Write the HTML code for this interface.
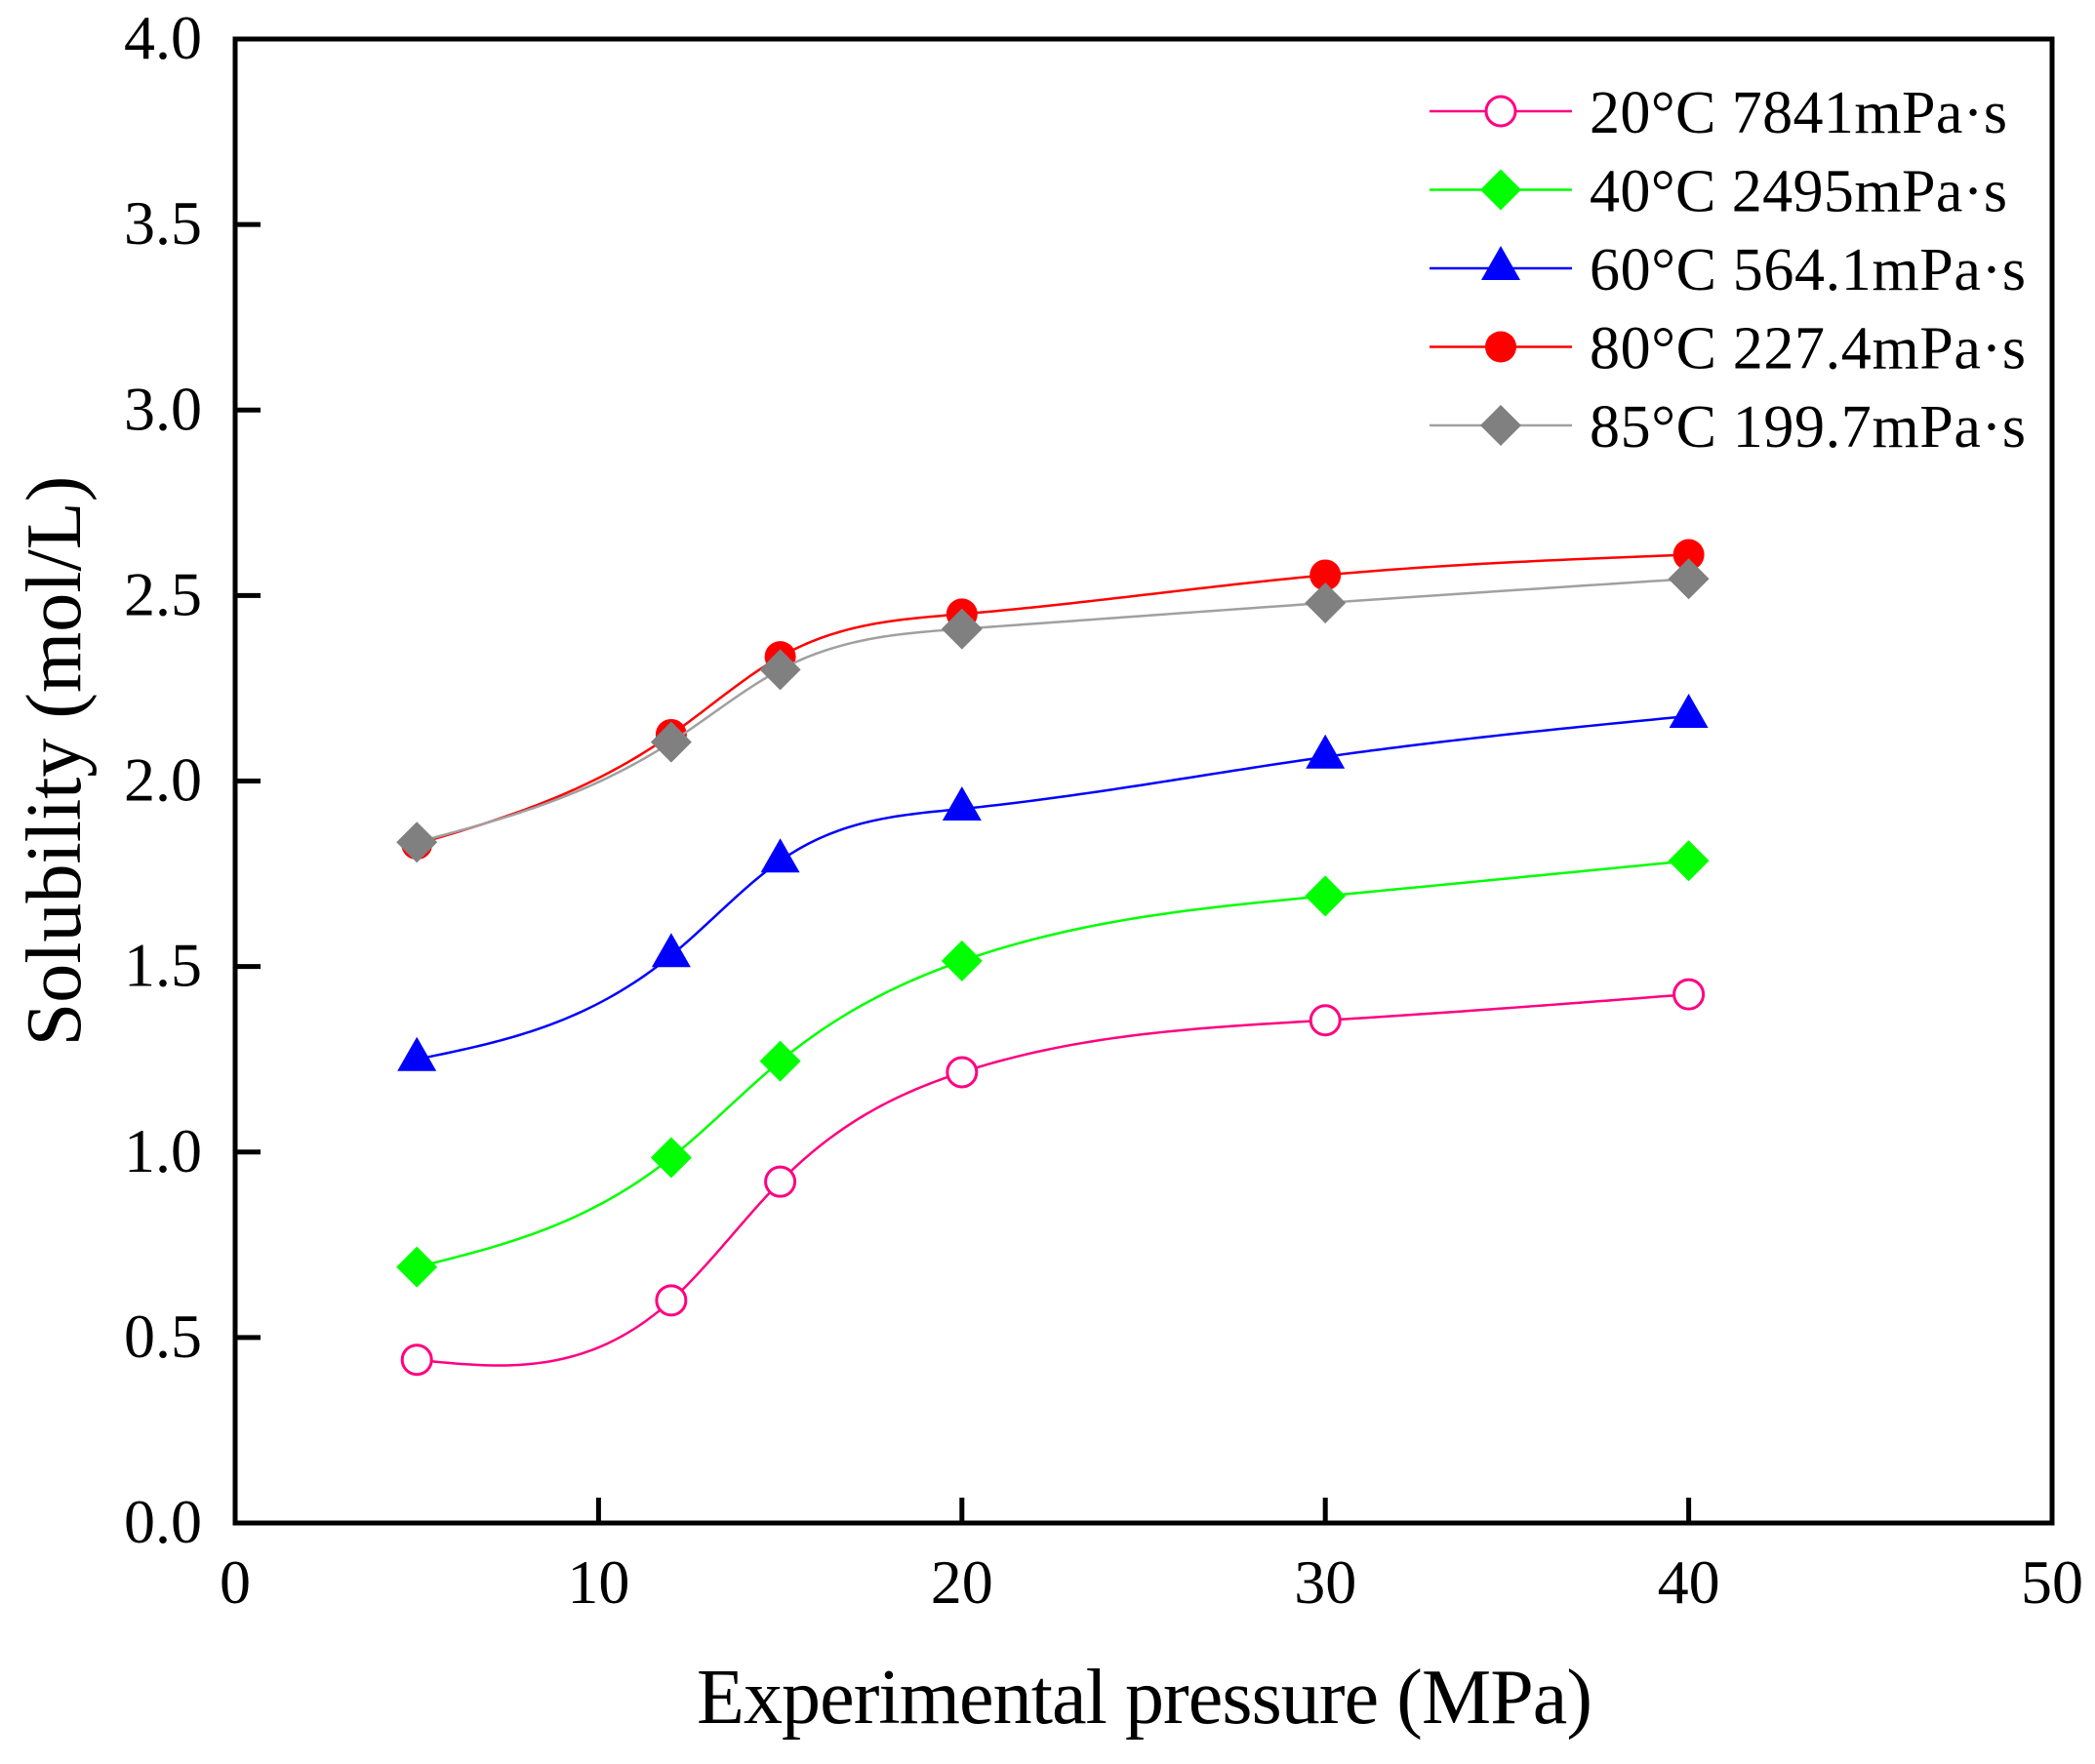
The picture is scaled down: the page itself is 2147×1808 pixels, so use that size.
<!DOCTYPE html>
<html><head><meta charset="utf-8"><style>
html,body{margin:0;padding:0;background:#fff;}
svg text{font-family:"Liberation Serif","Times New Roman",serif;fill:#000;}
</style></head><body>
<svg id="chart" xmlns="http://www.w3.org/2000/svg" width="2147" height="1803" viewBox="0 0 2147 1803">
<rect x="0" y="0" width="2147" height="1803" fill="#fff"/>
<g id="plot"></g>
<g id="axes"></g>
<g id="legend"></g>
<text x="1173" y="1766" font-size="80" text-anchor="middle" textLength="918">Experimental pressure (MPa)</text>
<text x="0" y="0" font-size="80" text-anchor="middle" transform="translate(82,780) rotate(-90)">Solubility (mol/L)</text>
</svg>
<script>
const pressures = [5, 12, 15, 20, 30, 40];
const s20 = [0.44, 0.60, 0.92, 1.215, 1.355, 1.425];
const s40 = [0.69, 0.985, 1.245, 1.515, 1.69, 1.785];
const s60 = [1.25, 1.53, 1.785, 1.925, 2.065, 2.175];
const s80 = [1.83, 2.125, 2.335, 2.45, 2.555, 2.61];
const s85 = [1.835, 2.105, 2.30, 2.41, 2.48, 2.545];
const seriesNames = ["20°C 7841mPa·s","40°C 2495mPa·s","60°C 564.1mPa·s","80°C 227.4mPa·s","85°C 199.7mPa·s"];
const xTicks = [0, 10, 20, 30, 40, 50];
const yTicks = [0.0, 0.5, 1.0, 1.5, 2.0, 2.5, 3.0, 3.5, 4.0];

const NS = "http://www.w3.org/2000/svg";
const L = 241, R = 2103, T = 40, B = 1561;
const xMin = 0, xMax = 50, yMin = 0, yMax = 4;
function xs(v){ return L + (v - xMin) / (xMax - xMin) * (R - L); }
function ys(v){ return B - (v - yMin) / (yMax - yMin) * (B - T); }
function mk(tag, attrs, parent){ const e = document.createElementNS(NS, tag); for (const k in attrs) e.setAttribute(k, attrs[k]); parent.appendChild(e); return e; }

const plot = document.getElementById('plot');
const axes = document.getElementById('axes');
const legend = document.getElementById('legend');

const styles = [
  {color:"#ff0080", marker:"circle", data:s20, name:"series-20c"},
  {color:"#00ff00", marker:"diamond", data:s40, name:"series-40c"},
  {color:"#0000ff", marker:"triangle", data:s60, name:"series-60c"},
  {color:"#ff0000", marker:"dot", data:s80, name:"series-80c"},
  {color:"#808080", marker:"diamond", data:s85, name:"series-85c", line:"#a0a0a0"}
];

// natural cubic spline in data space
function splinePath(x, y){
  const n = x.length, h = [], a = [], l = [1], mu = [0], z = [0], c = new Array(n).fill(0), b = [], d = [];
  for (let i = 0; i < n - 1; i++) h.push(x[i+1] - x[i]);
  for (let i = 1; i < n - 1; i++) a[i] = 3/h[i]*(y[i+1]-y[i]) - 3/h[i-1]*(y[i]-y[i-1]);
  for (let i = 1; i < n - 1; i++){
    l[i] = 2*(x[i+1]-x[i-1]) - h[i-1]*mu[i-1];
    mu[i] = h[i]/l[i];
    z[i] = (a[i] - h[i-1]*z[i-1])/l[i];
  }
  for (let j = n - 2; j >= 0; j--){
    c[j] = (j === n-2 ? 0 : 0) + z[j] - mu[j]*c[j+1];
    b[j] = (y[j+1]-y[j])/h[j] - h[j]*(c[j+1]+2*c[j])/3;
    d[j] = (c[j+1]-c[j])/(3*h[j]);
  }
  c[0] = 0;
  let pts = [];
  for (let j = 0; j < n - 1; j++){
    const steps = 40;
    for (let k = 0; k <= steps; k++){
      if (j > 0 && k === 0) continue;
      const t = h[j]*k/steps;
      const v = y[j] + b[j]*t + c[j]*t*t + d[j]*t*t*t;
      pts.push(xs(x[j]+t).toFixed(2) + "," + ys(v).toFixed(2));
    }
  }
  return "M" + pts.join(" L");
}

function drawMarker(type, cx, cy, color, parent){
  let e;
  if (type === "circle") e = mk('circle', {cx:cx, cy:cy, r:15, fill:"#fff", stroke:color, "stroke-width":3}, parent);
  else if (type === "dot") e = mk('circle', {cx:cx, cy:cy, r:16, fill:color}, parent);
  else if (type === "diamond") e = mk('polygon', {points:(cx)+","+(cy-21)+" "+(cx+21)+","+cy+" "+cx+","+(cy+21)+" "+(cx-21)+","+cy, fill:color}, parent);
  else e = mk('polygon', {points:cx+","+(cy-23)+" "+(cx+20)+","+(cy+12)+" "+(cx-20)+","+(cy+12), fill:color}, parent);
  return e;
}

styles.forEach(function(s, si){
  const g = mk('g', {}, plot);
  
  
  const px = pressures.map(xs), py = s.data.map(ys);
  const path = mk('path', {d:splinePath(pressures, s.data), fill:"none", stroke:s.line || s.color, "stroke-width":2.5}, g);
  
  
  for (let i = 0; i < pressures.length; i++){
    const m = drawMarker(s.marker, px[i], py[i], s.color, g);
    
    
  }
  const ly = 114 + si * 80.5;
  const lg = mk('g', {}, legend);
  
  
  mk('line', {x1:1465, x2:1611, y1:ly, y2:ly, stroke:s.line || s.color, "stroke-width":2.5}, lg);
  drawMarker(s.marker, 1538, ly, s.color, lg);
  const t = mk('text', {x:1629, y:ly + 22, "font-size":62, textLength: si < 2 ? 428 : 447}, lg);
  t.textContent = seriesNames[si];
});

const frame = mk('rect', {x:L, y:T, width:R-L, height:B-T, fill:"none", stroke:"#000", "stroke-width":5}, axes);



xTicks.forEach(function(v){
  const x = xs(v);
  if (v > xMin && v < xMax) mk('line', {x1:x, x2:x, y1:B, y2:B-26, stroke:"#000", "stroke-width":5}, axes);
  const t = mk('text', {x:x, y:1643, "font-size":64, "text-anchor":"middle"}, axes);
  
  
  t.textContent = String(v);
});
yTicks.forEach(function(v){
  const y = ys(v);
  if (v > yMin && v < yMax) mk('line', {x1:L, x2:L+26, y1:y, y2:y, stroke:"#000", "stroke-width":5}, axes);
  const t = mk('text', {x:207, y:y + 20, "font-size":64, "text-anchor":"end"}, axes);
  
  
  t.textContent = v.toFixed(1);
});
</script>
</body></html>
